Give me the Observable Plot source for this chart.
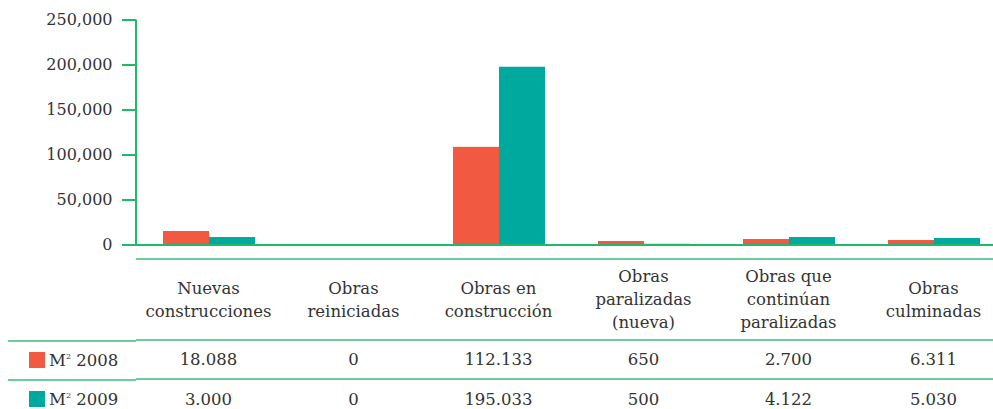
<!DOCTYPE html>
<html>
<head>
<meta charset="utf-8">
<script src="https://cdn.jsdelivr.net/npm/d3@7"></script>
<script src="https://cdn.jsdelivr.net/npm/@observablehq/plot@0.6"></script>
<style>
  html, body { margin: 0; padding: 0; background: #fff; overflow: hidden; width: 993px; height: 409px; }
  #wrap { position: relative; width: 1006px; font-family: "DejaVu Serif", serif; color: #333; }
  #wrap svg { display: block; }
  table { border-collapse: collapse; table-layout: fixed; width: 1006px; font-size: 16.5px; color: #333; }
  td { padding: 0; text-align: center; vertical-align: middle; }
  tr.head td { height: 79px; line-height: 23px; border-top: 2px solid #6acd98; }
  tr.head td.lab { border-top: 2px solid transparent; }
  tr.row td { height: 37px; border-top: 2px solid #6acd98; }
  td.lab { text-align: left; padding-left: 29px; }
  td.lab .sw { display: inline-block; width: 16px; height: 16px; vertical-align: -2px; margin-right: 4px; }
  sup { font-size: 8px; vertical-align: 7px; }
</style>
</head>
<body>
<div id="wrap"></div>
<script>
// ---- data ----
const categories = ["Nuevas construcciones", "Obras reiniciadas", "Obras en construcción", "Obras paralizadas (nueva)", "Obras que continúan paralizadas", "Obras culminadas"];
const labelLines = [["Nuevas", "construcciones"], ["Obras", "reiniciadas"], ["Obras en", "construcción"], ["Obras", "paralizadas", "(nueva)"], ["Obras que", "continúan", "paralizadas"], ["Obras", "culminadas"]];
const bars2008 = [15000, 0, 108500, 3900, 6100, 5000];
const bars2009 = [8300, 0, 197500, 800, 8300, 7200];
const table2008 = ["18.088", "0", "112.133", "650", "2.700", "6.311"];
const table2009 = ["3.000", "0", "195.033", "500", "4.122", "5.030"];
const seriesNames = ["2008", "2009"];
const yTicks = [0, 50000, 100000, 150000, 200000, 250000];

const orange = "#f15a40";
const teal = "#00a99d";
const green = "#22b86c";

const data = categories.map((c, i) => ({cat: c, v2008: bars2008[i], v2009: bars2009[i]}));

const chart = Plot.plot({
  width: 1006,
  height: 258,
  marginLeft: 136,
  marginRight: 0,
  marginTop: 19.5,
  marginBottom: 13.5,
  style: {fontFamily: "DejaVu Serif, serif", fontSize: "16px", background: "white", color: "#333"},
  x: {domain: categories, padding: 0, axis: null},
  y: {domain: [0, 250000], axis: null},
  marks: [
    Plot.barY(data, {x: "cat", y: "v2008", fill: orange, insetLeft: 27, insetRight: 72}),
    Plot.barY(data, {x: "cat", y: "v2009", fill: teal, insetLeft: 73, insetRight: 26}),
    Plot.ruleY([0], {stroke: green, strokeWidth: 2}),
    Plot.axisY(yTicks, {
      tickSize: 14, tickPadding: 10, tickFormat: d3.format(","),
      stroke: green, strokeWidth: 2, fill: "#333", fontSize: 16, label: null
    })
  ]
});

// vertical axis domain line derived from scales
const xs = chart.scale("x");
const ys = chart.scale("y");
const x0 = xs.range[0];
d3.select(chart).append("line")
  .attr("x1", x0).attr("x2", x0)
  .attr("y1", ys.apply(250000)).attr("y2", ys.apply(0))
  .attr("stroke", green).attr("stroke-width", 2);

const wrap = document.getElementById("wrap");
wrap.appendChild(chart);

// ---- table ----
const bw = xs.bandwidth;
let html = `<table><colgroup><col style="width:${x0}px">` + categories.map(() => `<col style="width:${bw}px">`).join("") + `</colgroup>`;
html += `<tr class="head"><td class="lab"></td>` + labelLines.map(l => `<td>${l.join("<br>")}</td>`).join("") + `</tr>`;
const rows = [[table2008, orange, seriesNames[0]], [table2009, teal, seriesNames[1]]];
for (const [vals, col, name] of rows) {
  html += `<tr class="row"><td class="lab"><span class="sw" style="background:${col}"></span>M<sup>2</sup> ${name}</td>` +
    vals.map(v => `<td>${v}</td>`).join("") + `</tr>`;
}
html += `</table>`;
const tdiv = document.createElement("div");
tdiv.innerHTML = html;
wrap.appendChild(tdiv);
// row label lines start at x=8
tdiv.querySelectorAll("tr.row td.lab").forEach(td => { td.style.borderTop = "none"; td.style.backgroundImage = "linear-gradient(#6acd98,#6acd98)"; td.style.backgroundSize = "calc(100% - 8px) 2px"; td.style.backgroundPosition = "8px 0"; td.style.backgroundRepeat = "no-repeat"; td.style.paddingTop = "2px"; });
</script>
</body>
</html>
